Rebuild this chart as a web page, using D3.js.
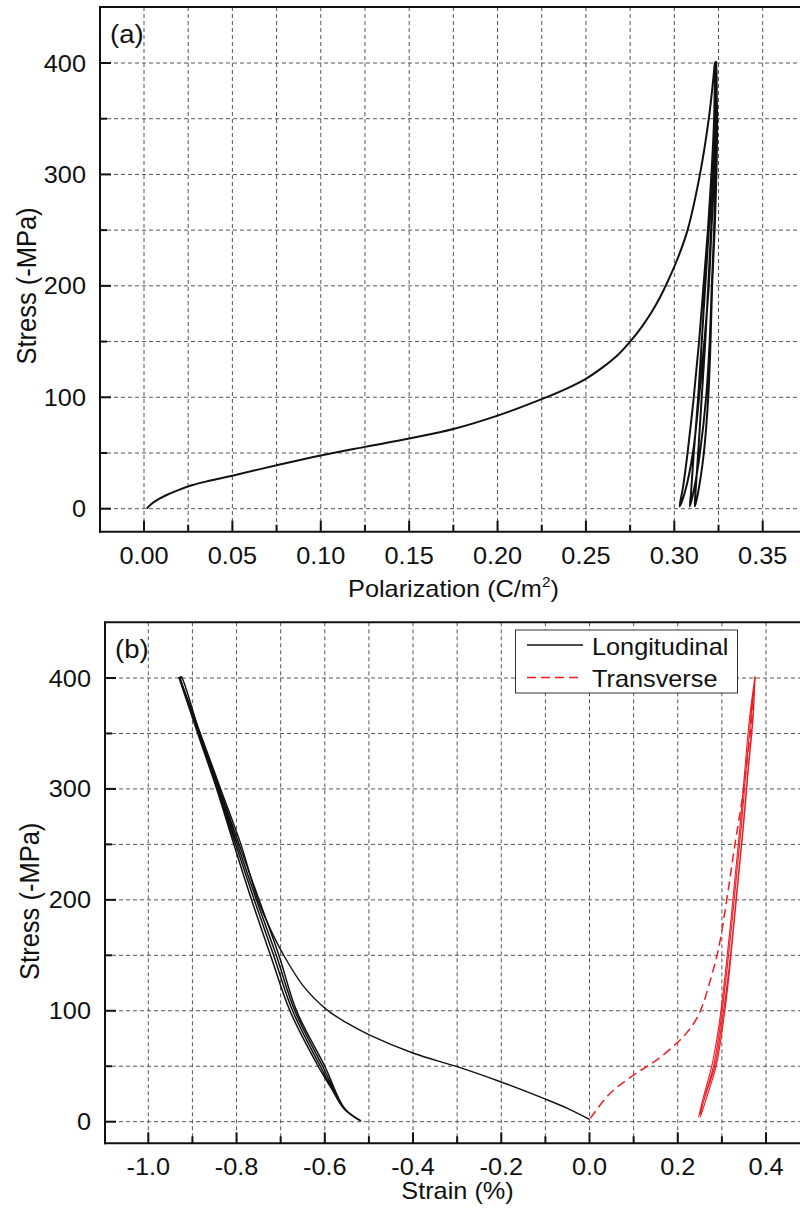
<!DOCTYPE html>
<html>
<head>
<meta charset="utf-8">
<script src="https://cdn.jsdelivr.net/npm/d3@7"></script>
<style>
  body { margin: 0; background: #fff; }
  svg text { font-family: "Liberation Sans", Arial, sans-serif; fill: #111; }
  .grid { stroke: #555; stroke-width: 1; stroke-dasharray: 4,3; }
  .frame { stroke: #111; stroke-width: 2; fill: none; }
</style>
</head>
<body>
<svg id="chart" width="800" height="1216"></svg>
<script>
// ---- panel (a): polarization vs stress ----
var polTicks = [0, 0.05, 0.10, 0.15, 0.20, 0.25, 0.30, 0.35];
var stressTicks = [0, 100, 200, 300, 400];
// first loading (virgin) curve: [P (C/m2), stress (-MPa)]
var polVirgin = [[0.0015, 0], [0.004, 4], [0.008, 8.3], [0.0128, 12.3], [0.019, 16.5], [0.027, 21], [0.037, 25],
  [0.05, 29.6], [0.075, 39], [0.10, 47.8], [0.125, 55.5], [0.15, 63], [0.175, 71.5], [0.20, 83.5], [0.226, 99],
  [0.240, 108.5], [0.2504, 117], [0.260, 127.5], [0.268, 138], [0.275, 150], [0.2815, 163], [0.287, 176],
  [0.292, 190], [0.296, 203], [0.302, 225], [0.3075, 250], [0.3145, 300], [0.3195, 350], [0.323, 401]];
// unloading / reloading cycles
var polCycles = [[0.323, 401], [0.3225, 350], [0.321, 300], [0.319, 250], [0.3165, 200], [0.314, 150], [0.311, 100],
  [0.3075, 50], [0.305, 20], [0.303, 2],
  [0.306, 15], [0.3105, 50], [0.314, 100], [0.317, 150], [0.3195, 200], [0.321, 250], [0.3225, 300], [0.323, 350], [0.3235, 401],
  [0.323, 350], [0.3215, 300], [0.3195, 250], [0.3175, 200], [0.3155, 150], [0.3135, 100], [0.311, 50], [0.3095, 15], [0.3088, 2],
  [0.3115, 20], [0.3145, 50], [0.318, 100], [0.320, 150], [0.3212, 200], [0.3225, 250], [0.3235, 300], [0.324, 350], [0.3238, 401],
  [0.3232, 350], [0.3222, 300], [0.3208, 250], [0.3192, 200], [0.3175, 150], [0.3155, 100], [0.3135, 50], [0.312, 15], [0.3116, 2],
  [0.3135, 15], [0.3167, 50], [0.3192, 100], [0.3205, 150], [0.3214, 200], [0.3228, 250], [0.3238, 300], [0.3242, 350], [0.3235, 401]];

// ---- panel (b): strain vs stress ----
var strainTicks = [-1.0, -0.8, -0.6, -0.4, -0.2, 0.0, 0.2, 0.4];
var seriesNames = ['Longitudinal', 'Transverse'];
var longVirgin = [[0, 2], [-0.05, 12], [-0.104, 21], [-0.202, 36], [-0.30, 49.6], [-0.399, 61.7], [-0.498, 78],
  [-0.549, 88.8], [-0.595, 100.8], [-0.648, 122], [-0.693, 150], [-0.725, 175], [-0.752, 200], [-0.79, 250],
  [-0.836, 300], [-0.882, 350], [-0.93, 401]];
var longCycles = [[-0.931, 401], [-0.888, 350], [-0.845, 300], [-0.806, 250], [-0.766, 200], [-0.723, 150], [-0.679, 100],
  [-0.615, 50], [-0.585, 30], [-0.557, 12], [-0.519, 1],
  [-0.555, 12], [-0.600, 50], [-0.664, 100], [-0.704, 150], [-0.749, 200], [-0.794, 250], [-0.838, 300], [-0.883, 350], [-0.925, 401],
  [-0.927, 401], [-0.886, 350], [-0.842, 300], [-0.802, 250], [-0.760, 200], [-0.716, 150], [-0.673, 100], [-0.610, 50], [-0.557, 12], [-0.52, 1],
  [-0.556, 12], [-0.605, 50], [-0.668, 100], [-0.710, 150], [-0.755, 200], [-0.798, 250], [-0.841, 300], [-0.885, 350], [-0.929, 401]];
var transVirgin = [[0.0016, 3], [0.047, 25.6], [0.0997, 42], [0.1527, 55.7], [0.2054, 73.7], [0.222, 81], [0.236, 88.5],
  [0.248, 97], [0.259, 108], [0.2734, 127], [0.286, 145], [0.296, 163], [0.311, 200], [0.33, 251], [0.349, 299],
  [0.364, 350], [0.375, 401]];
var transCycles = [[0.375, 401], [0.363, 365], [0.352, 317], [0.341, 266], [0.330, 221], [0.319, 176], [0.307, 131],
  [0.293, 86], [0.277, 50], [0.260, 25], [0.247, 4],
  [0.264, 25], [0.284, 50], [0.299, 86], [0.314, 131], [0.326, 176], [0.337, 221], [0.348, 266], [0.359, 317], [0.370, 365], [0.375, 401],
  [0.366, 365], [0.355, 317], [0.344, 266], [0.333, 221], [0.322, 176], [0.310, 131], [0.296, 86], [0.281, 50], [0.263, 25], [0.251, 4],
  [0.268, 25], [0.287, 50], [0.302, 86], [0.316, 131], [0.327, 176], [0.338, 221], [0.349, 266], [0.360, 317], [0.371, 365], [0.375, 401]];

var svg = d3.select('#chart');
var SX = 1.1;  // glyphs in the picture are a little wider than tall

function label(sel, x, y, size, anchor, str) {
  return sel.append('text').attr('transform', 'translate(' + x + ',' + y + ') scale(' + SX + ',1)')
    .attr('text-anchor', anchor).attr('font-size', size).text(str);
}

function panel(cfg) {
  var x = d3.scaleLinear().domain(cfg.xDom).range(cfg.xRange);
  var y = d3.scaleLinear().domain([0, 400]).range(cfg.yRange);
  var L = cfg.left, R = cfg.right, T = cfg.top, B = cfg.bottom;
  var g = svg.append('g');

  // grid (major + minor, all dashed)
  var xs = d3.range(cfg.xDom[0] - cfg.xMinor * 4, cfg.xDom[1] + cfg.xMinor * 4, cfg.xMinor)
    .filter(v => x(v) > L + 1 && x(v) < R - 1);
  g.selectAll('.vgrid').data(xs).enter().append('line').attr('class', 'grid')
    .attr('x1', d => x(d)).attr('x2', d => x(d)).attr('y1', T).attr('y2', B);
  var ys = d3.range(-50, 451, 50).filter(v => y(v) > T + 1 && y(v) < B - 1);
  g.selectAll('.hgrid').data(ys).enter().append('line').attr('class', 'grid')
    .attr('x1', L).attr('x2', R).attr('y1', d => y(d)).attr('y2', d => y(d));

  // curves
  var line = d3.line().x(d => x(d[0])).y(d => y(d[1])).curve(d3.curveCatmullRom.alpha(0.5));
  cfg.series.forEach(s => {
    g.append('path').attr('d', line(s.data)).attr('fill', 'none')
      .attr('stroke', s.color).attr('stroke-width', s.width)
      .attr('stroke-dasharray', s.dash || null).attr('stroke-linejoin', 'round');
  });

  // frame
  g.append('line').attr('class', 'frame').attr('x1', L).attr('x2', R).attr('y1', T).attr('y2', T);
  g.append('line').attr('class', 'frame').attr('x1', L).attr('x2', L).attr('y1', T - 1).attr('y2', B + 1);
  g.append('line').attr('class', 'frame').attr('x1', L - 1).attr('x2', R).attr('y1', B).attr('y2', B);

  // inward ticks
  xs.forEach(v => {
    var major = cfg.xTicks.some(t => Math.abs(t - v) < 1e-9);
    g.append('line').attr('x1', x(v)).attr('x2', x(v)).attr('y1', B).attr('y2', B - (major ? 11 : 7))
      .attr('stroke', '#111').attr('stroke-width', 2);
  });
  ys.forEach(v => {
    var major = v % 100 === 0;
    g.append('line').attr('x1', L).attr('x2', L + (major ? 11 : 7)).attr('y1', y(v)).attr('y2', y(v))
      .attr('stroke', '#111').attr('stroke-width', 2);
  });

  // tick labels
  cfg.xTicks.forEach(d => label(g, x(d), B + 32, 23, 'middle', d3.format(cfg.xFmt)(d).replace('−', '-')));
  stressTicks.forEach(d => label(g, L - 14, y(d) + 8.5, 23, 'end', d));

  // axis titles
  g.append('text').attr('transform', 'translate(' + cfg.yTitleX + ',' + (T + 279) + ') rotate(-90) scale(1,' + SX + ')')
    .attr('text-anchor', 'middle').attr('font-size', 25.5).text('Stress (-MPa)');
  var xt = label(g, (L + R) / 2, cfg.xTitleY, 23, 'middle', '');
  cfg.xTitle(xt);

  label(g, L + 10, T + 36, 25, 'start', cfg.tag);
  return { x: x, y: y, g: g };
}

panel({
  xDom: [0, 0.35], xRange: [144, 762.7], yRange: [508.7, 63],
  left: 100, right: 807, top: 7, bottom: 531.7,
  xMinor: 0.025, xTicks: polTicks, xFmt: '.2f', tag: '(a)',
  yTitleX: 36, xTitleY: 597,
  xTitle: t => { t.append('tspan').text('Polarization (C/m');
    t.append('tspan').attr('font-size', 14).attr('dy', -10).text('2');
    t.append('tspan').attr('dy', 10).text(')'); },
  series: [
    { data: polVirgin, color: '#111', width: 2 },
    { data: polCycles, color: '#111', width: 2 }
  ]
});

panel({
  xDom: [-1, 0.4], xRange: [148.3, 766], yRange: [1121.7, 678],
  left: 105, right: 810, top: 622.3, bottom: 1143.3,
  xMinor: 0.1, xTicks: strainTicks, xFmt: '.1f', tag: '(b)',
  yTitleX: 39, xTitleY: 1199,
  xTitle: t => t.text('Strain (%)'),
  series: [
    { data: longVirgin, color: '#111', width: 1.4 },
    { data: longCycles, color: '#111', width: 1.5 },
    { data: transVirgin, color: '#ee1c24', width: 1.5, dash: '9,5' },
    { data: transCycles, color: '#ee1c24', width: 1.1 }
  ]
});

// legend
var lg = svg.append('g');
lg.append('rect').attr('x', 515.5).attr('y', 630).attr('width', 222).attr('height', 63)
  .attr('fill', '#fff').attr('stroke', '#333').attr('stroke-width', 1);
var legendStyles = [{ color: '#111', dash: null }, { color: '#ee1c24', dash: '9,5' }];
seriesNames.forEach((n, i) => {
  var yy = 645 + i * 32.5;
  lg.append('line').attr('x1', 527).attr('x2', 583).attr('y1', yy).attr('y2', yy)
    .attr('stroke', legendStyles[i].color).attr('stroke-width', 1.5).attr('stroke-dasharray', legendStyles[i].dash);
  label(lg, 592, yy + 9.5, 23, 'start', n);
});
</script>
</body>
</html>
